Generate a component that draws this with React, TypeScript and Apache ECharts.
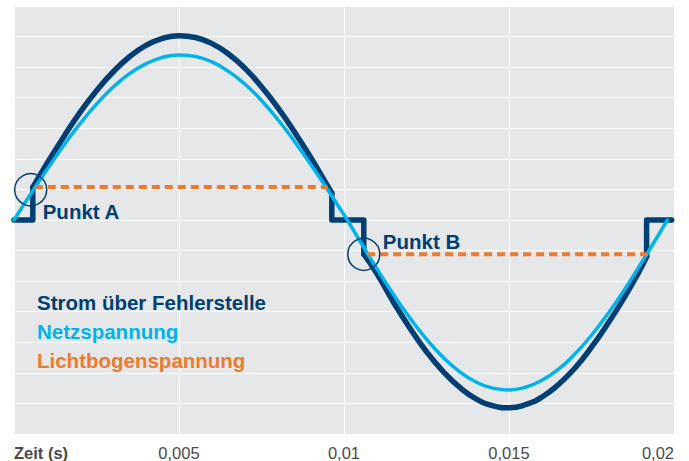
import React, { useEffect, useRef } from "react";
import * as echarts from "echarts";

// Time axis ticks (s)
const xTicks = [0, 0.005, 0.01, 0.015, 0.02];

// Netzspannung (mains voltage) [t, value]
const netzT = [0, 0.0005, 0.001, 0.0015, 0.002, 0.0025, 0.003, 0.0035, 0.004, 0.0045, 0.005,
  0.0055, 0.006, 0.0065, 0.007, 0.0075, 0.008, 0.0085, 0.009, 0.0095, 0.01, 0.0101,
  0.0105, 0.011, 0.0115, 0.012, 0.0125, 0.013, 0.0135, 0.014, 0.0145, 0.015,
  0.0155, 0.016, 0.0165, 0.017, 0.0175, 0.018, 0.0185, 0.019, 0.0195, 0.0198];
const netzV = [0, 0.84, 1.65, 2.43, 3.15, 3.79, 4.34, 4.79, 5.11, 5.32, 5.4,
  5.35, 5.17, 4.86, 4.44, 3.91, 3.28, 2.57, 1.81, 1.0, 0.17, 0,
  -0.72, -1.6, -2.44, -3.21, -3.9, -4.49, -4.96, -5.3, -5.5, -5.56,
  -5.47, -5.24, -4.88, -4.38, -3.77, -3.06, -2.28, -1.42, -0.54, 0];

// Strom über Fehlerstelle: positive conducting arc
const stromPosT = [0.00057, 0.001, 0.0015, 0.002, 0.0025, 0.003, 0.0035, 0.004, 0.0045, 0.005,
  0.0055, 0.006, 0.0065, 0.007, 0.0075, 0.008, 0.0085, 0.009, 0.0095, 0.00963];
const stromPosV = [1.07, 1.85, 2.71, 3.52, 4.23, 4.84, 5.34, 5.71, 5.94, 6.03,
  5.97, 5.77, 5.43, 4.96, 4.36, 3.67, 2.88, 2.03, 1.12, 0.88];
// negative conducting arc
const stromNegT = [0.0106, 0.011, 0.0115, 0.012, 0.0125, 0.013, 0.0135, 0.014, 0.0145, 0.015,
  0.0155, 0.016, 0.0165, 0.017, 0.0175, 0.018, 0.0185, 0.019, 0.01917];
const stromNegV = [-1.12, -1.76, -2.69, -3.54, -4.31, -4.95, -5.47, -5.85, -6.07, -6.14,
  -6.04, -5.79, -5.38, -4.84, -4.16, -3.38, -2.52, -1.57, -1.2];
// zero-current steps (null = break)
const stromStepT = [0, 0.00057, 0.00057, null, 0.00963, 0.00963, 0.0106, 0.0106, null, 0.01917, 0.01917, 0.01993];
const stromStepV = [0, 0, 1.07, null, 0.88, 0, 0, -1.12, null, -1.2, 0, 0];

// Lichtbogenspannung (arc voltage) segments
const bogenT = [0.00063, 0.0095, null, 0.0107, 0.0193];
const bogenV = [1.08, 1.08, null, -1.12, -1.12];

// Marked points
const punktNames = ["Punkt A", "Punkt B"];
const punktT = [0.000506, 0.0106];
const punktV = [0.99, -1.12];

const NAVY = "#003f74";
const LIGHT = "#00b3ec";
const ORANGE = "#f07a2b";

const zip = (t: (number | null)[], v: (number | null)[]) =>
  t.map((x, i) => (x === null ? [null, null] : [x, v[i]]));

export default function App() {
  const ref = useRef<HTMLDivElement>(null);
  useEffect(() => {
    if (!ref.current) return;
    const chart = echarts.init(ref.current, null, { renderer: "svg" });
    const font = "'Liberation Sans', Arial, Helvetica, sans-serif";
    chart.setOption({
      animation: false,
      textStyle: { fontFamily: font },
      grid: {
        left: 14,
        right: 15,
        top: 6,
        bottom: 27,
        containLabel: false,
        outerBoundsMode: "none",
        show: true,
        backgroundColor: "#e6e7e9",
        borderWidth: 0,
      },
      legend: {
        left: 27,
        top: 287,
        orient: "vertical",
        icon: "none",
        itemWidth: 0,
        itemHeight: 20,
        itemGap: 8,
        selectedMode: false,
        textStyle: { fontSize: 20.5, fontWeight: "bold", fontFamily: font, lineHeight: 20 },
        data: [
          { name: "Strom über Fehlerstelle", textStyle: { color: NAVY } },
          { name: "Netzspannung", textStyle: { color: LIGHT } },
          { name: "Lichtbogenspannung", textStyle: { color: ORANGE } },
        ],
      },
      xAxis: {
        type: "value",
        min: xTicks[0],
        max: xTicks[xTicks.length - 1],
        interval: xTicks[1] - xTicks[0],
        axisLine: { show: false },
        axisTick: { show: false },
        splitLine: { show: true, lineStyle: { color: "#ffffff", width: 1 } },
        axisLabel: {
          margin: 10,
          fontSize: 16.5,
          color: "#4a4a4a",
          fontFamily: font,
          alignMinLabel: "left",
          alignMaxLabel: "right",
          formatter: (v: number) =>
            v === 0 ? "{b|Zeit (s)}" : String(Number(v.toFixed(4))).replace(".", ","),
          rich: { b: { fontWeight: "bold", fontSize: 16.5, color: "#4a4a4a", fontFamily: font } },
        },
      },
      yAxis: {
        type: "value",
        min: -7,
        max: 7,
        interval: 1,
        axisLine: { show: false },
        axisTick: { show: false },
        axisLabel: { show: false },
        splitLine: { show: true, lineStyle: { color: "#ffffff", width: 1 } },
      },
      series: [
        {
          name: "Strom über Fehlerstelle",
          type: "line",
          data: zip(stromPosT, stromPosV),
          smooth: 0.5,
          showSymbol: false,
          lineStyle: { color: NAVY, width: 5.5, cap: "round" },
          itemStyle: { color: NAVY },
          z: 2,
        },
        {
          name: "Strom über Fehlerstelle",
          type: "line",
          data: zip(stromNegT, stromNegV),
          smooth: 0.5,
          showSymbol: false,
          lineStyle: { color: NAVY, width: 5.5, cap: "round" },
          itemStyle: { color: NAVY },
          z: 2,
        },
        {
          name: "Strom über Fehlerstelle",
          type: "line",
          data: zip(stromStepT, stromStepV),
          connectNulls: false,
          showSymbol: false,
          lineStyle: { color: NAVY, width: 5.5, cap: "round", join: "round" },
          itemStyle: { color: NAVY },
          z: 2,
        },
        {
          name: "Netzspannung",
          type: "line",
          data: zip(netzT, netzV),
          smooth: 0.5,
          showSymbol: false,
          lineStyle: { color: LIGHT, width: 3.5, cap: "round" },
          itemStyle: { color: LIGHT },
          z: 3,
        },
        {
          name: "Lichtbogenspannung",
          type: "line",
          data: zip(bogenT, bogenV),
          connectNulls: false,
          showSymbol: false,
          lineStyle: { color: ORANGE, width: 4, type: [8, 5] },
          itemStyle: { color: ORANGE },
          z: 4,
        },
        {
          name: "Punkte",
          type: "scatter",
          symbol: "circle",
          symbolSize: 32,
          itemStyle: { color: "rgba(0,0,0,0)", borderColor: NAVY, borderWidth: 1.5, opacity: 1 },
          z: 5,
          data: punktNames.map((n, i) => ({
            name: n,
            value: [punktT[i], punktV[i]],
            label: {
              show: true,
              formatter: n,
              position: "inside",
              align: "left",
              offset: i === 0 ? [12, 22] : [19, -13],
              fontSize: 20.5,
              fontWeight: "bold",
              color: NAVY,
              fontFamily: font,
            },
          })),
        },
      ],
    });
    return () => chart.dispose();
  }, []);
  return <div ref={ref} style={{ width: 689, height: 461, position: "absolute", left: 0, top: 0 }} />;
}
